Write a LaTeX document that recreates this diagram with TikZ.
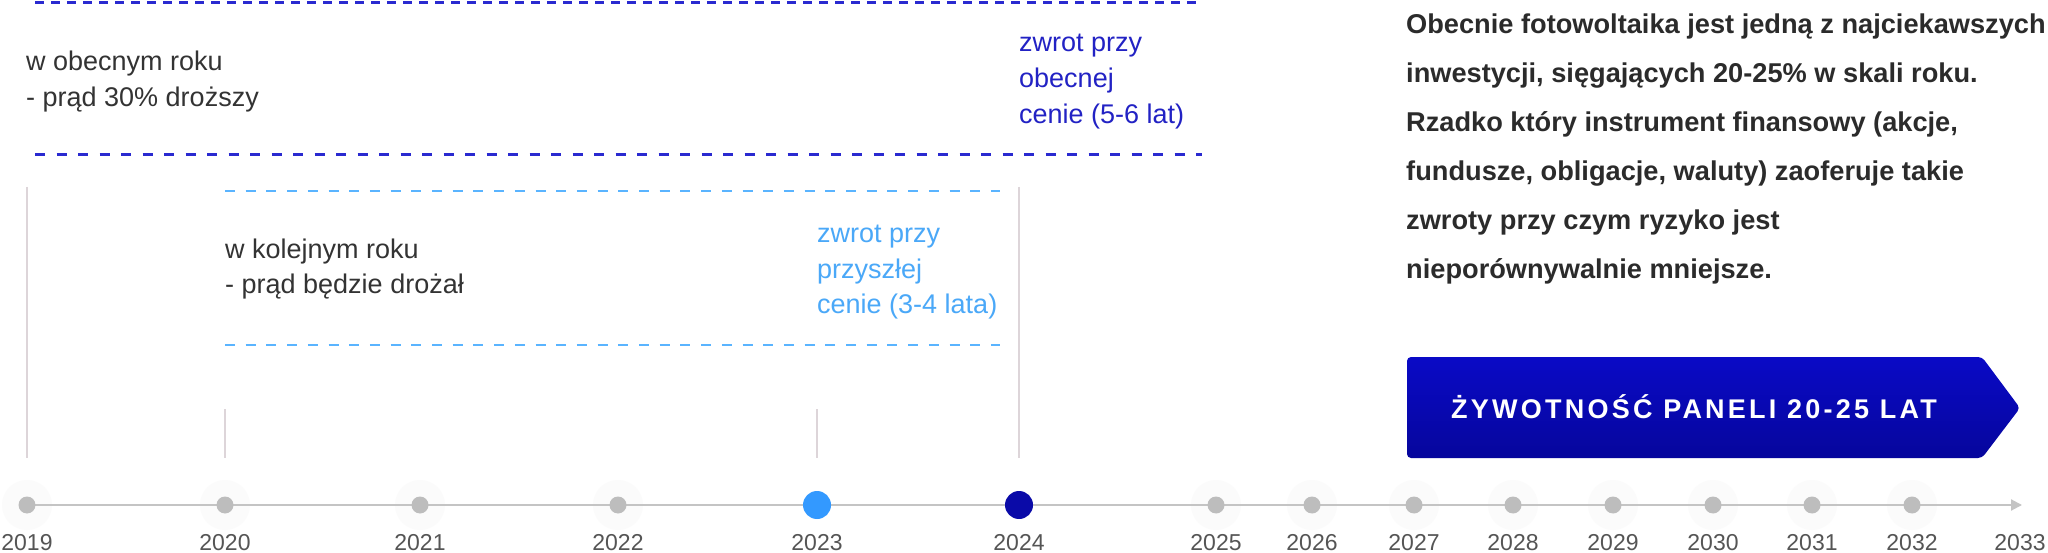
\documentclass[tikz,border=0pt]{standalone}
\usepackage{fontspec}
\setmainfont{Liberation Sans}
\usetikzlibrary{arrows.meta}
\definecolor{txt}{HTML}{333333}
\definecolor{partxt}{HTML}{2B2B2B}
\definecolor{yeartxt}{HTML}{555555}
\definecolor{blutxt}{HTML}{2222C4}
\definecolor{ltxt}{HTML}{4AA8F8}
\definecolor{dashdark}{HTML}{2A2AD0}
\definecolor{dashlight}{HTML}{5AB4FF}
\definecolor{dotgray}{HTML}{BDBDBD}
\definecolor{linegray}{HTML}{C4C4C4}
\definecolor{vgray}{HTML}{DDD5D9}
\definecolor{halo}{HTML}{FBFBFB}
\definecolor{dotA}{HTML}{3399FF}
\definecolor{dotB}{HTML}{0A0AA8}
\definecolor{banTop}{HTML}{0A0AC6}
\definecolor{banBot}{HTML}{06069C}
\tikzset{
  lbl/.style={anchor=base west, inner sep=0pt, font=\fontsize{27}{32}\selectfont},
  para/.style={anchor=base west, inner sep=0pt, text=partxt, font=\fontsize{27.2}{32}\selectfont\bfseries},
  yr/.style={anchor=base, inner sep=0pt, text=yeartxt, font=\fontsize{23}{28}\selectfont},
  gdot/.style={circle, fill=dotgray, minimum size=17pt, inner sep=0pt},
  halodot/.style={circle, fill=halo, minimum size=50pt, inner sep=0pt},
  bigdot/.style={circle, minimum size=28pt, inner sep=0pt},
  vline/.style={draw=vgray, line width=1.2pt},
  dkdash/.style={draw=dashdark, line width=3pt, dash pattern=on 9pt off 7pt},
  dkdashb/.style={draw=dashdark, line width=3pt, dash pattern=on 10pt off 11.5pt},
  ltdash/.style={draw=dashlight, line width=2.3pt, dash pattern=on 10pt off 10.7pt},
}
\begin{document}
\begin{tikzpicture}[x=1pt,y=-1pt]
\useasboundingbox (0,0) rectangle (2048,553);
\fill[white] (0,0) rectangle (2048,553);

% halos
\foreach \n/\x in {2019/27,2020/225,2021/420,2022/618,2025/1216,2026/1312,2027/1414,2028/1513,2029/1613,2030/1713,2031/1812,2032/1912}
  \node[halodot] (h\n) at (\x,505) {};

% timeline axis
\coordinate (axisStart) at (27,505);
\coordinate (axisEnd) at (2022,505);
\draw[draw=linegray, line width=2pt, -{Triangle[length=11pt,width=11pt]}] (axisStart) -- (axisEnd);

% gray dots
\foreach \n/\x in {2019/27,2020/225,2021/420,2022/618,2025/1216,2026/1312,2027/1414,2028/1513,2029/1613,2030/1713,2031/1812,2032/1912}
  \node[gdot] (d\n) at (\x,505) {};
\node[bigdot, fill=dotA] (d2023) at (817,505) {};
\node[bigdot, fill=dotB] (d2024) at (1019,505) {};

% year labels
\foreach \n/\x in {2019/27,2020/225,2021/420,2022/618,2023/817,2024/1019,2025/1216,2026/1312,2027/1414,2028/1513,2029/1613,2030/1713,2031/1812,2032/1912,2033/2020}
  \node[yr] (y\n) at (\x,550) {\n};

% vertical guide lines
\coordinate (v1a) at (27,187);   \coordinate (v1b) at (27,458);
\coordinate (v2a) at (1019,187); \coordinate (v2b) at (1019,458);
\coordinate (v3a) at (225,409);  \coordinate (v3b) at (225,458);
\coordinate (v4a) at (817,409);  \coordinate (v4b) at (817,458);
\draw[vline] (v1a) -- (v1b);
\draw[vline] (v2a) -- (v2b);
\draw[vline] (v3a) -- (v3b);
\draw[vline] (v4a) -- (v4b);

% dashed bands
\coordinate (k1a) at (35,2.5);  \coordinate (k1b) at (1202,2.5);
\coordinate (k2a) at (35,155);  \coordinate (k2b) at (1202,155);
\coordinate (l1a) at (225,191); \coordinate (l1b) at (1000,191);
\coordinate (l2a) at (225,345); \coordinate (l2b) at (1000,345);
\draw[dkdash] (k1a) -- (k1b);
\draw[dkdashb] (k2a) -- (k2b);
\draw[ltdash] (l1a) -- (l1b);
\draw[ltdash] (l2a) -- (l2b);

% left texts
\node[lbl, text=txt] (a1) at (26,71) {w obecnym roku};
\node[lbl, text=txt] (a2) at (26,107) {- prąd 30\% droższy};
\node[lbl, text=txt] (b1) at (225,259) {w kolejnym roku};
\node[lbl, text=txt] (b2) at (225,294) {- prąd będzie drożał};

\node[lbl, text=blutxt] (c1) at (1019,52) {zwrot przy};
\node[lbl, text=blutxt] (c2) at (1019,88) {obecnej};
\node[lbl, text=blutxt] (c3) at (1019,124) {cenie (5-6 lat)};

\node[lbl, text=ltxt] (e1) at (817,243) {zwrot przy};
\node[lbl, text=ltxt] (e2) at (817,279) {przyszłej};
\node[lbl, text=ltxt] (e3) at (817,314) {cenie (3-4 lata)};

% paragraph
\node[para] (p1) at (1406,34) {Obecnie fotowoltaika jest jedną z najciekawszych};
\node[para] (p2) at (1406,83) {inwestycji, sięgających 20-25\% w skali roku.};
\node[para] (p3) at (1406,132) {Rzadko który instrument finansowy (akcje,};
\node[para] (p4) at (1406,181) {fundusze, obligacje, waluty) zaoferuje takie};
\node[para] (p5) at (1406,230) {zwroty przy czym ryzyko jest};
\node[para] (p6) at (1406,279) {nieporównywalnie mniejsze.};

% banner
\shade[top color=banTop, bottom color=banBot, rounded corners=4pt]
  (1407,357) -- (1982,357) -- (2020,408) -- (1982,458) -- (1407,458) -- cycle;
\node[inner sep=0pt, anchor=base, text=white, font=\fontsize{27}{30}\selectfont\bfseries\addfontfeature{LetterSpace=12}] (ban) at (1694,418) {ŻYWOTNOŚĆ PANELI 20-25 LAT};
\end{tikzpicture}
\end{document}
